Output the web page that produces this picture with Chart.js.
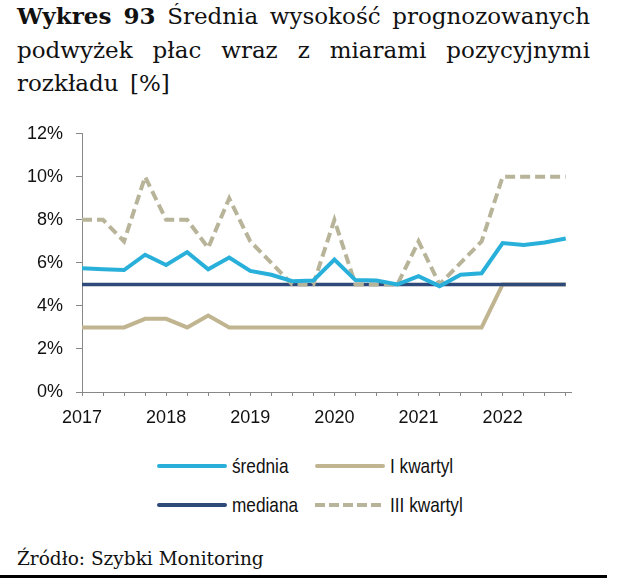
<!DOCTYPE html>
<html lang="pl">
<head>
<meta charset="utf-8">
<script src="https://cdn.jsdelivr.net/npm/chart.js@4"></script>
<style>
  html, body { margin: 0; padding: 0; background: #fff; }
  #page { position: relative; width: 619px; height: 588px; overflow: hidden; }
  .title { position: absolute; left: 17px; top: -1px; width: 573px; font-family: "DejaVu Serif", serif; font-size: 23px; line-height: 33.5px; color: #111; }
  .title div { text-align: justify; text-align-last: justify; }
  .title div.last { text-align: left; text-align-last: left; word-spacing: 4px; }
  #chartBox { position: absolute; left: 0; top: 110px; width: 600px; height: 330px; }
  .leg-line { position: absolute; width: 70px; height: 4px; border-radius: 2px; }
  .leg-text { position: absolute; font-family: "Liberation Sans", Arial, sans-serif; font-size: 21px; line-height: 24px; color: #111; white-space: nowrap; transform: scaleX(0.82); transform-origin: 0 50%; }
  .source { position: absolute; left: 17px; top: 548px; font-family: "DejaVu Serif", serif; font-size: 18.5px; line-height: 22px; color: #111; }
  .rule { position: absolute; left: 0; top: 575px; width: 607px; height: 3px; background: #000; }
</style>
</head>
<body>
<div id="page">
  <div class="title">
    <div><b>Wykres 93</b> Średnia wysokość prognozowanych</div>
    <div>podwyżek płac wraz z miarami pozycyjnymi</div>
    <div class="last">rozkładu [%]</div>
  </div>
  <div id="chartBox"><canvas id="chart" width="600" height="330"></canvas></div>
  <div id="legend"></div>
  <div class="source">Źródło: Szybki Monitoring</div>
  <div class="rule"></div>
</div>
<script>
// kwartały 2017 Q1 – 2022 Q4
const quarters = [
  "2017 Q1", "2017 Q2", "2017 Q3", "2017 Q4",
  "2018 Q1", "2018 Q2", "2018 Q3", "2018 Q4",
  "2019 Q1", "2019 Q2", "2019 Q3", "2019 Q4",
  "2020 Q1", "2020 Q2", "2020 Q3", "2020 Q4",
  "2021 Q1", "2021 Q2", "2021 Q3", "2021 Q4",
  "2022 Q1", "2022 Q2", "2022 Q3", "2022 Q4",
];
const years = ["2017", "2018", "2019", "2020", "2021", "2022"];
const yTicks = [0, 2, 4, 6, 8, 10, 12];

const srednia = [5.75, 5.7, 5.67, 6.38, 5.9, 6.5, 5.7, 6.25, 5.63, 5.45, 5.15, 5.18,
                 6.15, 5.2, 5.18, 5.0, 5.38, 4.92, 5.45, 5.52, 6.92, 6.83, 6.95, 7.13];
const mediana = [5, 5, 5, 5, 5, 5, 5, 5, 5, 5, 5, 5,
                 5, 5, 5, 5, 5, 5, 5, 5, 5, 5, 5, 5];
const iKwartyl = [3, 3, 3, 3.4, 3.4, 3, 3.55, 3, 3, 3, 3, 3,
                  3, 3, 3, 3, 3, 3, 3, 3, 5, 5, 5, 5];
const iiiKwartyl = [8, 8, 7, 10, 8, 8, 6.7, 9, 7, 6, 5, 5,
                    8, 5, 5, 5, 7, 5, 6, 7, 10, 10, 10, 10];

const colors = {
  srednia: "#29b0da",
  mediana: "#2e4a7a",
  iKwartyl: "#c0b590",
  iiiKwartyl: "#b8b499",
};

const toPoints = (arr) => arr.map((v, i) => ({ x: i, y: v }));
const font = { family: "'Liberation Sans', Arial, sans-serif", size: 18 };

// dataset 0 is drawn on top
const datasets = [
  { label: "średnia", data: toPoints(srednia), borderColor: colors.srednia, borderWidth: 4 },
  { label: "III kwartyl", data: toPoints(iiiKwartyl), borderColor: colors.iiiKwartyl, borderWidth: 4, borderDash: [10, 5] },
  { label: "mediana", data: toPoints(mediana), borderColor: colors.mediana, borderWidth: 3.5 },
  { label: "I kwartyl", data: toPoints(iKwartyl), borderColor: colors.iKwartyl, borderWidth: 4 },
];

new Chart(document.getElementById("chart"), {
  type: "line",
  data: { datasets: datasets.map((d) => ({ ...d, pointRadius: 0, tension: 0, fill: false, borderCapStyle: "butt" })) },
  options: {
    responsive: false,
    animation: false,
    layout: { padding: { top: 20, right: 29, bottom: 0, left: 0 } },
    plugins: { legend: { display: false }, tooltip: { enabled: false } },
    scales: {
      x: {
        type: "linear",
        min: 0,
        max: quarters.length - 0.75,
        afterBuildTicks: (axis) => { axis.ticks = quarters.map((q, i) => ({ value: i })); },
        afterFit: (axis) => { axis.height = 48; },
        grid: { drawOnChartArea: false, drawTicks: true, tickLength: 4, color: "#888" },
        border: { color: "#888", width: 1 },
        ticks: {
          autoSkip: false, maxRotation: 0, padding: 11, color: "#111", font,
          callback: (v) => (v % 4 === 0 ? years[v / 4] : ""),
        },
      },
      y: {
        min: 0,
        max: 12,
        afterBuildTicks: (axis) => { axis.ticks = yTicks.map((v) => ({ value: v })); },
        afterFit: (axis) => { axis.width = 82; },
        grid: { drawOnChartArea: false, drawTicks: true, tickLength: 6, color: "#888" },
        border: { color: "#888", width: 1 },
        ticks: { padding: 13, color: "#111", font, callback: (v) => v + "%" },
      },
    },
  },
});

// legenda w dwóch kolumnach
const legendItems = [
  { name: "średnia", color: colors.srednia, left: 157, top: 466 },
  { name: "I kwartyl", color: colors.iKwartyl, left: 315, top: 466 },
  { name: "mediana", color: colors.mediana, left: 157, top: 505 },
  { name: "III kwartyl", color: colors.iiiKwartyl, left: 315, top: 505, dashed: true },
];
const legend = document.getElementById("legend");
for (const it of legendItems) {
  const line = document.createElement("div");
  line.className = "leg-line";
  line.style.left = it.left + "px";
  line.style.top = it.top - 2 + "px";
  line.style.background = it.dashed
    ? `repeating-linear-gradient(to right, ${it.color} 0 10px, transparent 10px 14px)`
    : it.color;
  if (it.dashed) line.style.borderRadius = "0";
  const txt = document.createElement("div");
  txt.className = "leg-text";
  txt.textContent = it.name;
  txt.style.left = it.left + 75 + "px";
  txt.style.top = it.top - 12 + "px";
  legend.append(line, txt);
}
</script>
</body>
</html>
